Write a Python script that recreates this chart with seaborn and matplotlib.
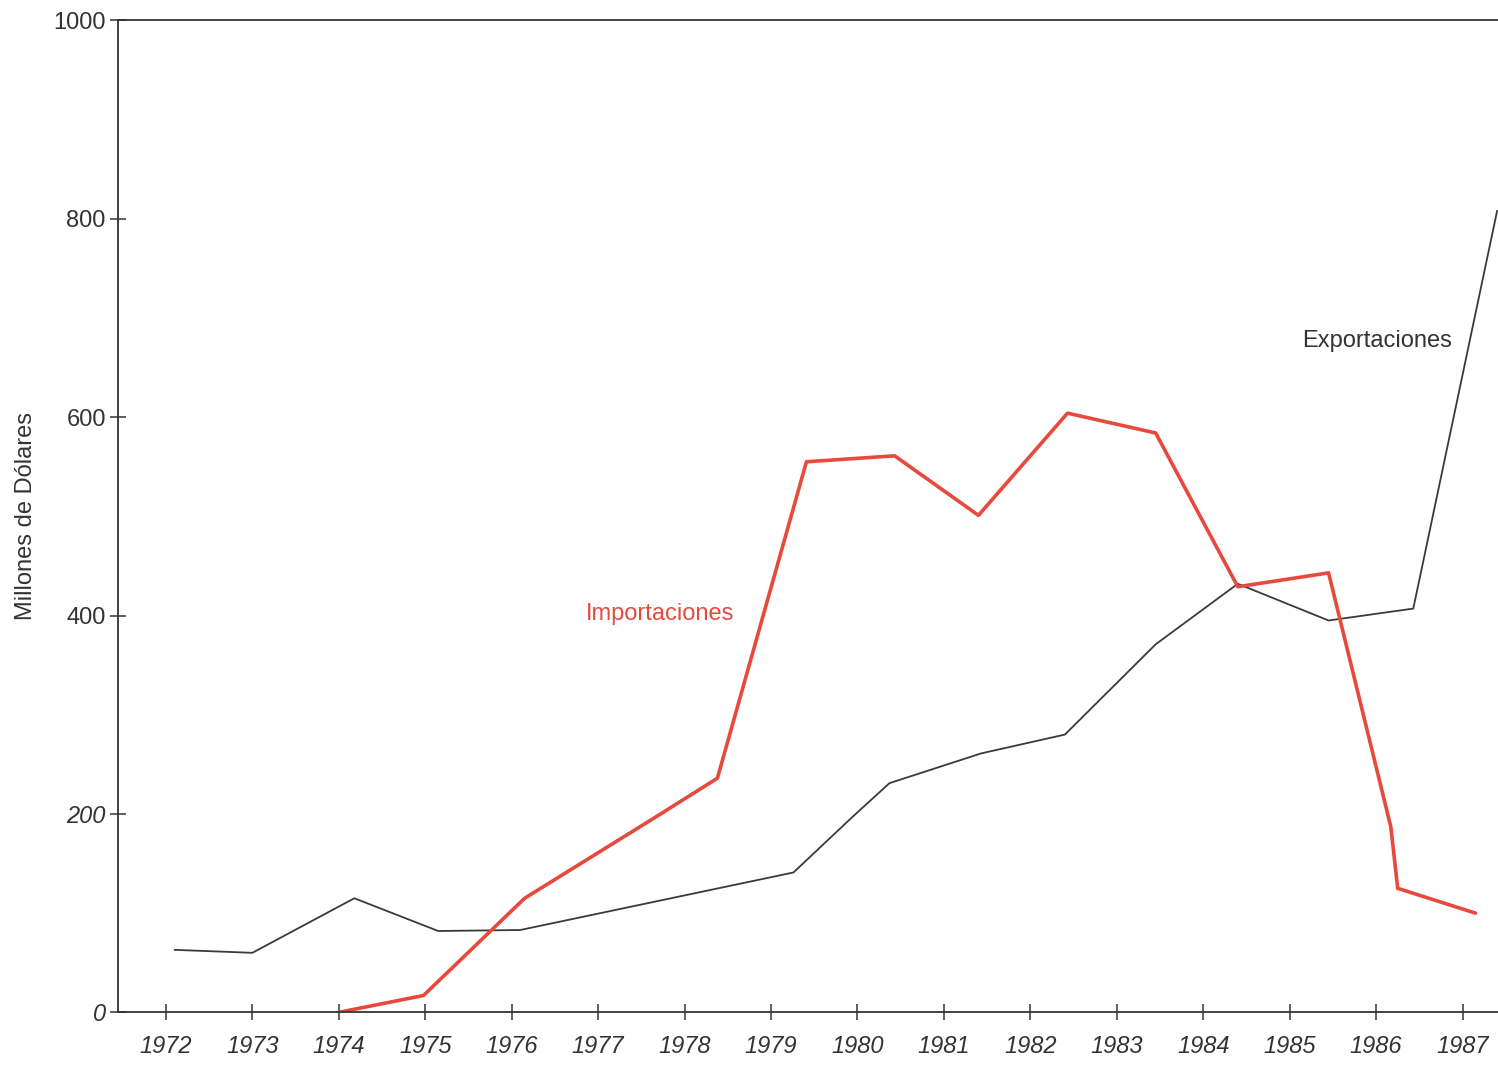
import matplotlib
matplotlib.use("Agg")
import matplotlib.pyplot as plt
import pandas as pd
import seaborn as sns

# values (millones de dolares)
exp_years = [1972.1, 1973.0, 1974.18, 1975.15, 1976.1, 1979.26, 1979.93, 1980.37,
             1981.43, 1982.4, 1983.45, 1984.4, 1985.45, 1986.43, 1987.4]
exp_values = [63, 60, 115, 82, 83, 141, 196, 231, 261, 280, 371, 432, 395, 407, 808]

imp_years = [1974.0, 1974.98, 1976.15, 1977.65, 1978.38, 1979.41, 1980.43, 1981.4,
             1982.43, 1983.45, 1984.4, 1985.45, 1986.17, 1986.25, 1987.15]
imp_values = [0, 17, 115, 196, 236, 555, 561, 501, 604, 584, 429, 443, 187, 125, 100]

year_ticks = list(range(1972, 1988))
value_ticks = [0, 200, 400, 600, 800, 1000]

sns.set_style("ticks")
plt.rcParams["font.family"] = ["Liberation Sans", "DejaVu Sans"]

exp_df = pd.DataFrame({"year": exp_years, "value": exp_values})
imp_df = pd.DataFrame({"year": imp_years, "value": imp_values})

fig = plt.figure(figsize=(14.98, 10.69), dpi=100)
ax = fig.add_axes([0.079, 0.053, 0.921, 0.928])

sns.lineplot(data=exp_df, x="year", y="value", ax=ax, color="#3a3a3a",
             linewidth=1.3, sort=False)
sns.lineplot(data=imp_df, x="year", y="value", ax=ax, color="#e8493d",
             linewidth=2.6, sort=False)

ax.set_xlim(1971.45, 1987.41)
ax.set_ylim(0, 1000)
ax.set_xticks(year_ticks)
ax.set_xticklabels([str(y) for y in year_ticks], fontsize=17, style="italic",
                   color="#333333")
ax.set_yticks(value_ticks)
ylabels = ax.set_yticklabels([str(v) for v in value_ticks], fontsize=17,
                             color="#333333")
for lab, v in zip(ylabels, value_ticks):
    if v <= 200:
        lab.set_style("italic")

ax.tick_params(axis="y", direction="inout", length=12, width=1.1,
               color="#333333", pad=3)
ax.tick_params(axis="x", direction="inout", length=12, width=1.1,
               color="#333333", pad=10)

for side in ["left", "bottom", "top"]:
    ax.spines[side].set_color("#333333")
    ax.spines[side].set_linewidth(1.3)
ax.spines["right"].set_visible(False)

ax.set_xlabel("")
ax.set_ylabel("Millones de Dólares", fontsize=17, color="#333333", labelpad=12)

ax.text(1986.01, 677, "Exportaciones", fontsize=17, color="#333333",
        ha="center", va="center")
ax.text(1977.72, 402, "Importaciones", fontsize=17, color="#e8493d",
        ha="center", va="center")

fig.savefig("out.png", dpi=100, facecolor="white")
